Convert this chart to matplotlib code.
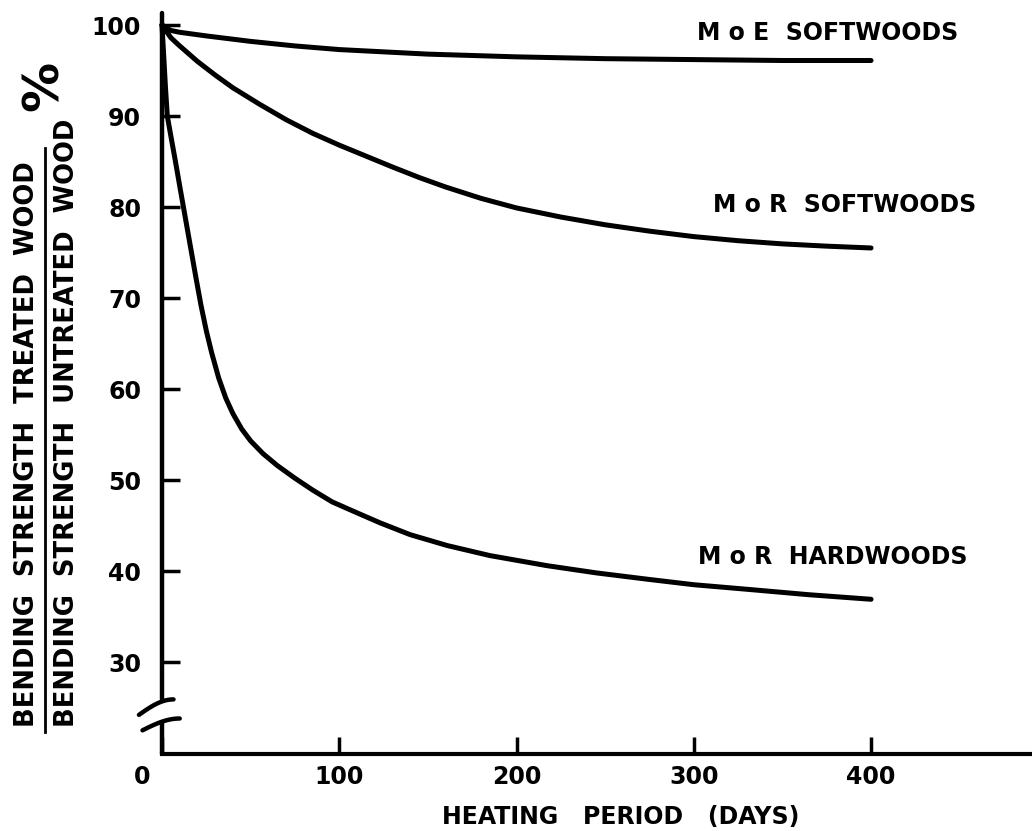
import numpy as np
import matplotlib
matplotlib.use("Agg")
import matplotlib.pyplot as plt
from matplotlib.lines import Line2D
import matplotlib.transforms as mtransforms

# ---- data ----
moe_soft_x = [0, 5, 10, 25, 50, 75, 100, 150, 200, 250, 300, 350, 400]
moe_soft_y = [100, 99.4, 99.2, 98.8, 98.2, 97.7, 97.3, 96.8, 96.5, 96.3, 96.2, 96.1, 96.1]

mor_soft_x = [0, 5, 10, 20, 30, 40, 55, 70, 85, 100, 115, 130, 145, 160, 180, 200, 225,
              250, 275, 300, 325, 350, 375, 400]
mor_soft_y = [100, 98.6, 97.7, 96.0, 94.5, 93.1, 91.3, 89.6, 88.1, 86.8, 85.6, 84.4, 83.25,
              82.2, 80.95, 79.9, 78.9, 78.05, 77.35, 76.75, 76.3, 75.95, 75.7, 75.5]

mor_hard_x = [0, 1, 2, 3, 5, 7.5, 10, 13, 16, 19, 22, 25, 28, 32, 36, 40, 45, 50, 57, 65,
              75, 85, 96, 110, 123, 140, 161, 185, 217, 245, 274, 300, 330, 365, 400]
mor_hard_y = [100, 96.5, 93, 90, 87.8, 85.1, 82.3, 79.0, 75.7, 72.4, 69.2, 66.4, 64.0, 61.2,
              59.0, 57.3, 55.6, 54.3, 52.9, 51.6, 50.2, 48.9, 47.6, 46.4, 45.3, 44.0,
              42.8, 41.7, 40.6, 39.8, 39.1, 38.5, 38.0, 37.4, 36.9]

x_ticks = [0, 100, 200, 300, 400]
x_tick_labels = ["0", "100", "200", "300", "400"]
y_ticks = [30, 40, 50, 60, 70, 80, 90, 100]
y_tick_labels = ["30", "40", "50", "60", "70", "80", "90", "100"]

labels = ["M o E  SOFTWOODS", "M o R  SOFTWOODS", "M o R  HARDWOODS"]
x_title = "HEATING   PERIOD   (DAYS)"
y_title_top = "BENDING  STRENGTH  TREATED  WOOD"
y_title_bottom = "BENDING  STRENGTH  UNTREATED  WOOD"

plt.rcParams["font.family"] = ["DejaVu Sans"]
plt.rcParams["font.weight"] = "bold"

W, H = 1032, 831
fig = plt.figure(figsize=(W / 100, H / 100), dpi=100)

def px(x, y):
    return x / W, 1 - y / H

x0_px, x_end_px = 162, 1032
ax_bottom_px, ax_top_px = 754, 6.8
ax = fig.add_axes([x0_px / W, 1 - ax_bottom_px / H, (x_end_px - x0_px) / W,
                   (ax_bottom_px - ax_top_px) / H])
ax.set_xlim(0, 490.8)
ax.set_ylim(19.9, 102)

lw = 3.6
for xs, ys in [(moe_soft_x, moe_soft_y), (mor_soft_x, mor_soft_y), (mor_hard_x, mor_hard_y)]:
    ax.plot(xs, ys, color="black", lw=lw, solid_capstyle="round", solid_joinstyle="round",
            clip_on=False)

# spines
for s in ["top", "right", "left"]:
    ax.spines[s].set_visible(False)
ax.spines["bottom"].set_linewidth(3.0)

# manual left spine with break
ax.plot([0, 0], [19.9, 23.6], color="black", lw=3.2, clip_on=False, solid_capstyle="butt")
ax.plot([0, 0], [25.9, 101.3], color="black", lw=3.2, clip_on=False, solid_capstyle="round")
t = np.linspace(0, 1, 30)
ax.plot(-13 + 19.5 * t, 24.2 + 1.7 * np.sin(t * np.pi / 2), color="black", lw=3.2,
        clip_on=False, solid_capstyle="round")
ax.plot(-11 + 21 * t, 22.5 + 1.3 * np.sin(t * np.pi / 2), color="black", lw=3.2,
        clip_on=False, solid_capstyle="round")

ax.set_xticks(x_ticks)
ax.set_xticklabels(x_tick_labels)
ax.set_yticks(y_ticks)
ax.set_yticklabels(y_tick_labels)
ax.tick_params(axis="y", direction="in", length=13, width=2.5, labelsize=17, pad=15)
ax.tick_params(axis="x", direction="in", length=12, width=2.5, labelsize=17, pad=8)
for lab in ax.get_xticklabels() + ax.get_yticklabels():
    lab.set_fontweight("bold")
# the "0" label sits left of the axis in the reference
xl0 = ax.get_xticklabels()[0]
xl0.set_transform(xl0.get_transform() + mtransforms.ScaledTranslation(-20 / 100, 0,
                                                                       fig.dpi_scale_trans))
ax.patch.set_alpha(0)

# curve labels
ax.text(301.8, 99.1, labels[0], fontsize=17, fontweight="bold", ha="left", va="center")
ax.text(310.9, 80.2, labels[1], fontsize=17, fontweight="bold", ha="left", va="center")
ax.text(302.4, 41.5, labels[2], fontsize=17, fontweight="bold", ha="left", va="center")

# axis titles
fig.text(*px(621, 817), x_title, fontsize=17, fontweight="bold", ha="center", va="center")
fig.text(*px(27, 727), y_title_top, fontsize=18.6, fontweight="bold", rotation=90,
         ha="center", va="bottom")
fig.text(*px(67, 727), y_title_bottom, fontsize=18.6, fontweight="bold", rotation=90,
         ha="center", va="bottom")
fig.add_artist(Line2D([45 / W, 45 / W], [1 - 148 / H, 1 - 732 / H], color="black", lw=2.0))
fig.text(*px(44, 86), "%", fontsize=36, fontweight="bold", rotation=90, ha="center",
         va="center")

fig.savefig("out.png", dpi=100)
